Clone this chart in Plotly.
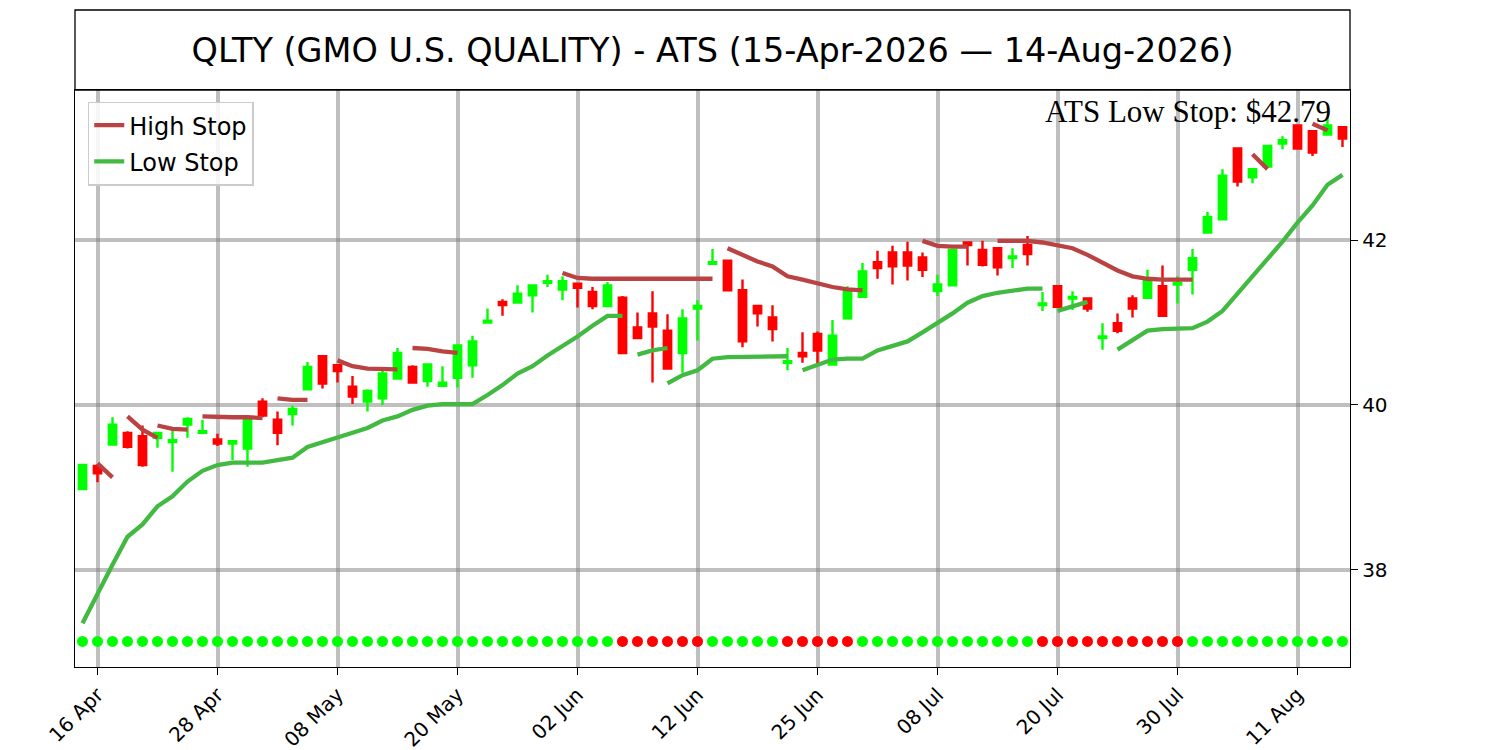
import plotly.graph_objects as go

# ---------------- data ----------------
tick_idx = [1, 9, 17, 25, 33, 41, 49, 57, 65, 73, 81]
tick_labels = ["16 Apr", "28 Apr", "08 May", "20 May", "02 Jun", "12 Jun",
               "25 Jun", "08 Jul", "20 Jul", "30 Jul", "11 Aug"]

opens = [38.98, 39.26, 39.52, 39.66, 39.62, 39.60, 39.55, 39.76, 39.66, 39.58,
         39.53, 39.47, 40.04, 39.82, 39.89, 40.19, 40.59, 40.48, 40.22, 40.04,
         40.08, 40.32, 40.46, 40.29, 40.23, 40.33, 40.48, 41.00, 41.25, 41.24,
         41.33, 41.48, 41.40, 41.47, 41.37, 41.20, 41.30, 40.94, 41.11, 40.90,
         40.63, 41.17, 41.71, 41.75, 41.39, 41.20, 41.06, 40.51, 40.63, 40.86,
         40.49, 41.05, 41.31, 41.73, 41.85, 41.85, 41.79, 41.38, 41.45, 41.97,
         41.88, 41.90, 41.78, 41.94, 41.21, 41.44, 41.29, 41.29, 40.81, 40.99,
         41.29, 41.30, 41.44, 41.46, 41.64, 42.09, 42.25, 43.11, 42.76, 42.89,
         43.17, 43.39, 43.32, 43.28, 43.37]
highs = [39.28, 39.28, 39.85, 39.68, 39.75, 39.67, 39.72, 39.85, 39.82, 39.65,
         39.56, 39.87, 40.08, 39.92, 39.99, 40.52, 40.60, 40.49, 40.35, 40.19,
         40.41, 40.69, 40.48, 40.50, 40.47, 40.73, 40.84, 41.17, 41.28, 41.45,
         41.46, 41.58, 41.56, 41.48, 41.43, 41.49, 41.32, 41.12, 41.38, 41.10,
         41.16, 41.27, 41.89, 41.76, 41.52, 41.21, 41.21, 40.69, 40.88, 40.89,
         41.03, 41.44, 41.72, 41.87, 41.93, 41.98, 41.85, 41.58, 41.89, 41.97,
         41.99, 41.91, 41.90, 42.05, 41.37, 41.45, 41.38, 41.30, 40.99, 41.11,
         41.33, 41.64, 41.69, 41.56, 41.89, 42.34, 42.86, 43.12, 42.87, 43.15,
         43.26, 43.40, 43.33, 43.49, 43.38]
lows = [38.97, 39.06, 39.52, 39.47, 39.25, 39.48, 39.19, 39.60, 39.66, 39.50,
        39.33, 39.25, 39.85, 39.51, 39.75, 40.19, 40.20, 40.27, 40.01, 39.92,
        40.00, 40.32, 40.27, 40.22, 40.23, 40.21, 40.33, 41.00, 41.08, 41.24,
        41.12, 41.43, 41.27, 41.18, 41.16, 41.20, 40.62, 40.80, 40.27, 40.43,
        40.39, 40.78, 41.71, 41.38, 40.70, 40.95, 40.77, 40.42, 40.51, 40.48,
        40.49, 41.05, 41.31, 41.53, 41.46, 41.51, 41.55, 41.32, 41.45, 41.69,
        41.68, 41.57, 41.66, 41.69, 41.14, 41.18, 41.15, 41.13, 40.67, 40.87,
        41.06, 41.30, 41.07, 41.23, 41.34, 42.09, 42.25, 42.65, 42.69, 42.88,
        43.10, 43.10, 43.02, 43.27, 43.13]
closes = [39.27, 39.17, 39.76, 39.49, 39.27, 39.66, 39.57, 39.83, 39.68, 39.53,
          39.56, 39.82, 39.87, 39.66, 39.95, 40.46, 40.26, 40.41, 40.10, 40.17,
          40.38, 40.63, 40.27, 40.49, 40.27, 40.72, 40.77, 41.02, 41.21, 41.35,
          41.45, 41.50, 41.50, 41.42, 41.20, 41.45, 40.63, 40.81, 40.95, 40.44,
          41.05, 41.20, 41.73, 41.39, 40.77, 41.11, 40.92, 40.53, 40.59, 40.66,
          40.84, 41.38, 41.62, 41.66, 41.68, 41.69, 41.64, 41.46, 41.88, 41.94,
          41.70, 41.67, 41.80, 41.83, 41.23, 41.19, 41.31, 41.17, 40.83, 40.90,
          41.17, 41.50, 41.08, 41.48, 41.78, 42.28, 42.78, 42.71, 42.86, 43.14,
          43.21, 43.11, 43.06, 43.39, 43.23]

# stop line segments: (start index, values)
high_stop_segments = [
    (1, [39.29, 39.12]),
    (3, [39.86, 39.70, 39.60]),
    (5, [39.75, 39.71, 39.70]),
    (8, [39.86, 39.85, 39.85, 39.85, 39.84]),
    (13, [40.08, 40.06, 40.06]),
    (17, [40.54, 40.47, 40.44, 40.44, 40.43]),
    (22, [40.69, 40.68, 40.65, 40.63]),
    (32, [41.60, 41.54, 41.53, 41.53, 41.53, 41.53, 41.53, 41.53, 41.53, 41.53, 41.53]),
    (43, [41.90, 41.82, 41.74, 41.68, 41.56, 41.52, 41.47, 41.43, 41.40, 41.39]),
    (56, [41.99, 41.93, 41.92, 41.92]),
    (61, [41.99, 41.99, 41.99, 41.97, 41.94, 41.90, 41.82, 41.72, 41.63, 41.56,
          41.53, 41.52, 41.52, 41.52]),
    (78, [43.04, 42.86]),
    (82, [43.41, 43.33]),
]
low_stop_segments = [
    (0, [37.35, 37.71, 38.06, 38.40, 38.55, 38.77, 38.89, 39.07, 39.20, 39.27,
         39.30, 39.30, 39.30, 39.33, 39.36, 39.49, 39.55, 39.61, 39.66, 39.72,
         39.81, 39.86, 39.94, 39.99, 40.01, 40.01, 40.01, 40.12, 40.24, 40.38,
         40.47, 40.60, 40.71, 40.83, 40.96, 41.08, 41.08]),
    (37, [40.61, 40.66, 40.69]),
    (39, [40.26, 40.36, 40.42, 40.56, 40.58, 40.58, 40.58, 40.58, 40.59]),
    (48, [40.42, 40.48, 40.55, 40.56, 40.56, 40.66, 40.71, 40.77, 40.88, 40.99,
          41.11, 41.24, 41.32, 41.36, 41.38, 41.41, 41.41]),
    (65, [41.14, 41.20, 41.25]),
    (69, [40.67, 40.79, 40.90, 40.92, 40.93, 40.93, 41.01, 41.14, 41.35, 41.56,
          41.76, 41.98, 42.21, 42.42, 42.67, 42.79]),
]
red_state_days = list(range(36, 42)) + list(range(47, 52)) + list(range(64, 74))
dot_level = 37.13
last_low_stop = 42.79

title_text = "QLTY (GMO U.S. QUALITY) - ATS (15-Apr-2026 \u2014 14-Aug-2026)"

# ---------------- figure ----------------
n = len(closes)
xs = list(range(n))
GREEN = "#00ff00"
RED = "#ff0000"
HIGH_C = "rgb(186,66,66)"
LOW_C = "rgb(66,186,66)"

# the page body adds an 8 px offset; compensate so the plot lands where intended
OFF = 8
W, H = 1500, 750
L, T, R_EDGE, B_EDGE = 75 - OFF, 90 - OFF, 1350 - OFF, 667 - OFF
plot_h = B_EDGE - T

fig = go.Figure()

fig.add_trace(go.Candlestick(
    x=xs, open=opens, high=highs, low=lows, close=closes,
    increasing=dict(line=dict(color=GREEN, width=2.4), fillcolor=GREEN),
    decreasing=dict(line=dict(color=RED, width=2.4), fillcolor=RED),
    showlegend=False, hoverinfo="skip",
))

for k, (s, vals) in enumerate(high_stop_segments):
    fig.add_trace(go.Scatter(
        x=list(range(s, s + len(vals))), y=vals, mode="lines",
        line=dict(color=HIGH_C, width=4.3), name="High Stop",
        legendgroup="high", showlegend=(k == 0), hoverinfo="skip"))

for k, (s, vals) in enumerate(low_stop_segments):
    fig.add_trace(go.Scatter(
        x=list(range(s, s + len(vals))), y=vals, mode="lines",
        line=dict(color=LOW_C, width=4.3), name="Low Stop",
        legendgroup="low", showlegend=(k == 0), hoverinfo="skip"))

fig.add_trace(go.Scatter(
    x=xs, y=[dot_level] * n, mode="markers",
    marker=dict(size=11, color=[RED if i in red_state_days else GREEN for i in xs],
                line=dict(width=0)),
    showlegend=False, hoverinfo="skip"))

fig.update_layout(
    width=W, height=H,
    margin=dict(l=L, r=W - R_EDGE, t=T, b=H - B_EDGE, pad=0, autoexpand=False),
    paper_bgcolor="white", plot_bgcolor="white",
    font=dict(family="DejaVu Sans", size=20, color="black"),
    title=dict(text=title_text, x=(712.5 - OFF) / W, xanchor="center", xref="container",
               y=1 - (50 - OFF) / H, yanchor="middle", yref="container",
               font=dict(family="DejaVu Sans", size=33.5, color="black")),
    boxgap=0.3,
    showlegend=True,
    legend=dict(x=0.01, y=0.98, xanchor="left", yanchor="top",
                bgcolor="rgba(255,255,255,0.85)", bordercolor="#cccccc", borderwidth=1.5,
                font=dict(family="DejaVu Sans", size=24, color="black"),
                itemwidth=30, tracegroupgap=2),
    xaxis=dict(range=[-0.5, n - 0.5], tickmode="array", tickvals=tick_idx,
               ticktext=tick_labels, tickangle=-45, automargin=False,
               showgrid=True, gridcolor="rgba(128,128,128,0.5)", gridwidth=4,
               zeroline=False, showline=True, linecolor="black", linewidth=1.3,
               mirror=True, ticks="outside", ticklen=7, tickwidth=1.3,
               tickcolor="black", rangeslider=dict(visible=False),
               tickfont=dict(size=20)),
    yaxis=dict(range=[36.82, 43.82], side="right", tickmode="array",
               tickvals=[38, 40, 42], ticktext=["38", "40", "42"], automargin=False,
               showgrid=True, gridcolor="rgba(128,128,128,0.5)", gridwidth=4,
               zeroline=False, showline=True, linecolor="black", linewidth=1.3,
               mirror=True, ticks="outside", ticklen=7, tickwidth=1.3,
               tickcolor="black", tickfont=dict(size=20)),
    shapes=[dict(type="rect", xref="paper", yref="paper", x0=0, x1=1,
                 y0=1, y1=1 + 80 / plot_h, line=dict(color="black", width=1.3),
                 fillcolor="rgba(0,0,0,0)")],
    annotations=[dict(text="ATS Low Stop: $%.2f" % last_low_stop,
                      xref="paper", yref="paper", x=0.9865, y=0.997,
                      xanchor="right", yanchor="top", showarrow=False,
                      font=dict(family="Liberation Serif", size=31, color="black"))],
)

fig.write_html("out.html")
